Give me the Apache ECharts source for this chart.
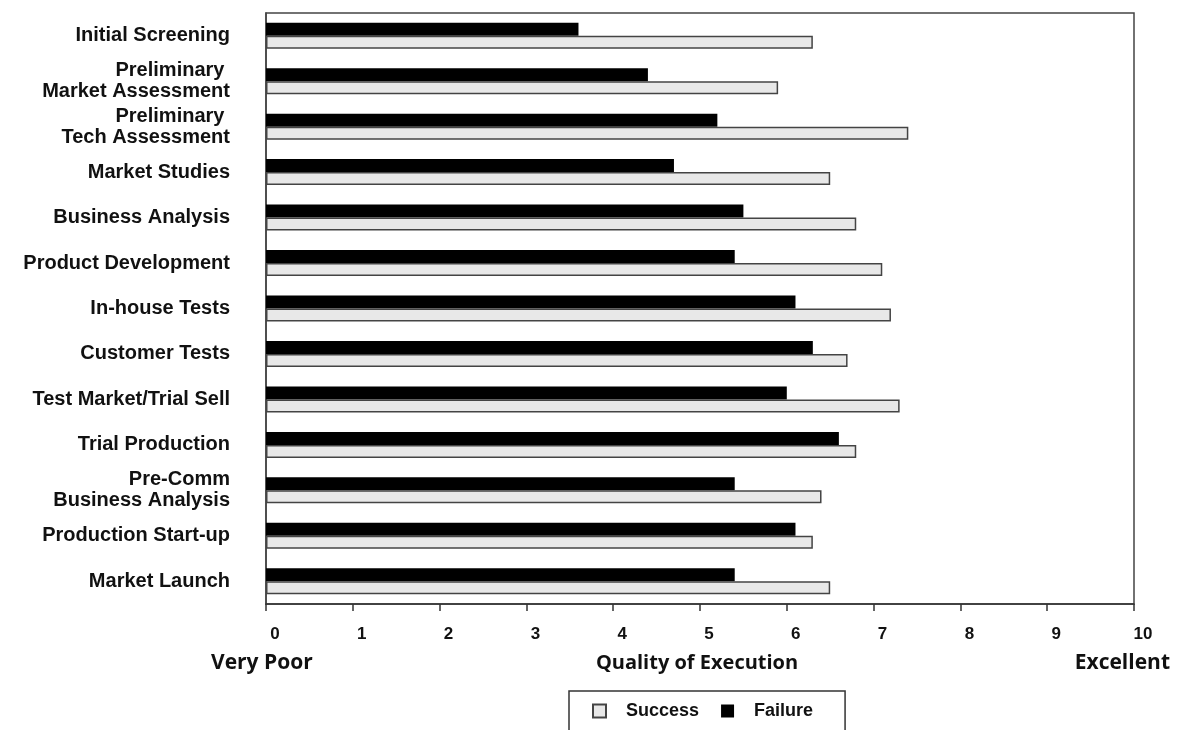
<!DOCTYPE html>
<html><head><meta charset="utf-8">
<script src="https://cdn.jsdelivr.net/npm/echarts@6/dist/echarts.min.js"></script>
<style>html,body{margin:0;padding:0;background:#fff}#c{width:1182px;height:730px}</style>
</head><body><div id="c"></div>
<script>
const categories = [
  'Initial Screening',
  'Preliminary \nMarket Assessment',
  'Preliminary \nTech Assessment',
  'Market Studies',
  'Business Analysis',
  'Product Development',
  'In-house Tests',
  'Customer Tests',
  'Test Market/Trial Sell',
  'Trial Production',
  'Pre-Comm\nBusiness Analysis',
  'Production Start-up',
  'Market Launch'
];
const successValues = [6.3, 5.9, 7.4, 6.5, 6.8, 7.1, 7.2, 6.7, 7.3, 6.8, 6.4, 6.3, 6.5];
const failureValues = [3.6, 4.4, 5.2, 4.7, 5.5, 5.4, 6.1, 6.3, 6.0, 6.6, 5.4, 6.1, 5.4];
const xMin = 0, xMax = 10, xStep = 1;
const axisTitleLeft = 'Very Poor';
const axisTitleMid = 'Quality of Execution';
const axisTitleRight = 'Excellent';

const chart = echarts.init(document.getElementById('c'), null, {renderer: 'canvas'});
const labelFont = 'Liberation Sans, Arial, sans-serif';
const titleFont = 'Open Sans, sans-serif';
chart.setOption({
  animation: false,
  backgroundColor: '#fff',
  grid: {
    left: 266, right: 48, top: 13, bottom: 126,
    show: true, borderColor: '#444', borderWidth: 1.5, containLabel: false
  },
  xAxis: {
    type: 'value', min: xMin, max: xMax, interval: xStep,
    axisLine: {show: true, lineStyle: {color: '#333', width: 1.5}},
    axisTick: {show: true, inside: false, length: 7, lineStyle: {color: '#333', width: 1.5}},
    splitLine: {show: false},
    axisLabel: {
      margin: 22, fontSize: 17, fontWeight: 'bold', color: '#111',
      fontFamily: labelFont, padding: [0, 0, 0, 18]
    }
  },
  yAxis: {
    type: 'category', inverse: true, data: categories,
    axisLine: {show: true, lineStyle: {color: '#444', width: 1.5}},
    axisTick: {show: false},
    splitLine: {show: false},
    axisLabel: {
      margin: 36, fontSize: 20, fontWeight: 'bold', color: '#111',
      fontFamily: labelFont, lineHeight: 21, align: 'right'
    }
  },
  legend: {
    data: ['Success', 'Failure'],
    left: 569, top: 691,
    orient: 'horizontal',
    icon: 'rect', itemWidth: 13, itemHeight: 13, itemGap: 22,
    padding: [11, 32, 20, 23],
    borderColor: '#333', borderWidth: 1.5, backgroundColor: '#fff',
    textStyle: {fontSize: 18, fontWeight: 'bold', color: '#111', fontFamily: labelFont, padding: [0, 0, 0, 15]}
  },
  series: [
    {
      name: 'Failure', type: 'bar', data: failureValues,
      barWidth: 13, barGap: '0%',
      itemStyle: {color: '#000', borderColor: '#000', borderWidth: 0}
    },
    {
      name: 'Success', type: 'bar', data: successValues,
      barWidth: 13, barGap: '0%',
      itemStyle: {color: '#e8e8e8', borderColor: '#444', borderWidth: 1.5}
    }
  ],
  graphic: [
    {type: 'text', x: 211, y: 653, style: {text: axisTitleLeft, font: 'bold 21px ' + titleFont, fill: '#111'}},
    {type: 'text', x: 697, y: 653, style: {text: axisTitleMid, font: 'bold 20px ' + titleFont, fill: '#111', align: 'center'}},
    {type: 'text', x: 1170, y: 653, style: {text: axisTitleRight, font: 'bold 21px ' + titleFont, fill: '#111', align: 'right'}}
  ]
});
</script></body></html>
